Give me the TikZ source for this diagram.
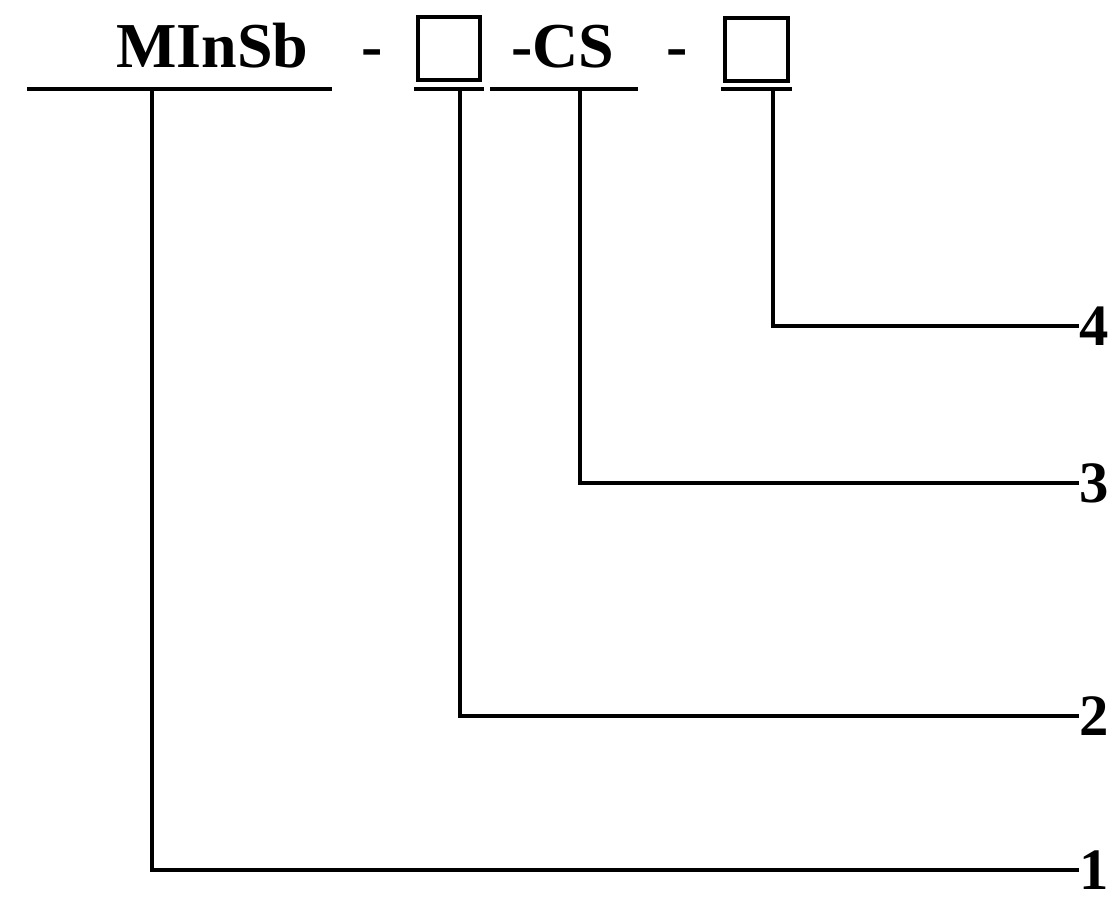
\documentclass[tikz,border=0pt]{standalone}
\usepackage{fontspec}
\setmainfont{Liberation Serif}
\begin{document}
\begin{tikzpicture}[x=0.75pt,y=-0.75pt,
  txt/.style={inner sep=0pt,anchor=base west,font=\fontsize{48}{50}\selectfont\bfseries},
  codebox/.style={draw,line width=3pt,inner sep=0pt,minimum width=47pt,minimum height=47pt},
  uline/.style={line width=3pt},
  conn/.style={line width=2.6pt},
  num/.style={inner sep=0pt,anchor=west,font=\fontsize{44}{46}\selectfont\bfseries}]
\useasboundingbox (0,0) rectangle (1112,902);
% code string
\node[txt] (minsb) at (116,68) {MInSb};
\node[txt] (h1) at (361,68) {-};
\node[codebox] (b1) at (449,48.5) {};
\node[txt] (cs) at (511,68) {-CS};
\node[txt] (h2) at (666,68) {-};
\node[codebox] (b2) at (756.5,49.5) {};
% underlines
\coordinate (u1a) at (27,89);  \coordinate (u1b) at (332,89);
\coordinate (u2a) at (414,89); \coordinate (u2b) at (484,89);
\coordinate (u3a) at (490,89); \coordinate (u3b) at (638,89);
\coordinate (u4a) at (721,89); \coordinate (u4b) at (792,89);
\draw[uline] (u1a) -- (u1b);
\draw[uline] (u2a) -- (u2b);
\draw[uline] (u3a) -- (u3b);
\draw[uline] (u4a) -- (u4b);
% tap points
\coordinate (t1) at (152,89);
\coordinate (t2) at (460,89);
\coordinate (t3) at (580,89);
\coordinate (t4) at (773,89);
% labels
\node[num] (n4) at (1079,326) {4};
\node[num] (n3) at (1079,483) {3};
\node[num] (n2) at (1079,716) {2};
\node[num] (n1) at (1079,870) {1};
% connectors
\draw[conn] (t1) |- (n1.west);
\draw[conn] (t2) |- (n2.west);
\draw[conn] (t3) |- (n3.west);
\draw[conn] (t4) |- (n4.west);
\end{tikzpicture}
\end{document}
